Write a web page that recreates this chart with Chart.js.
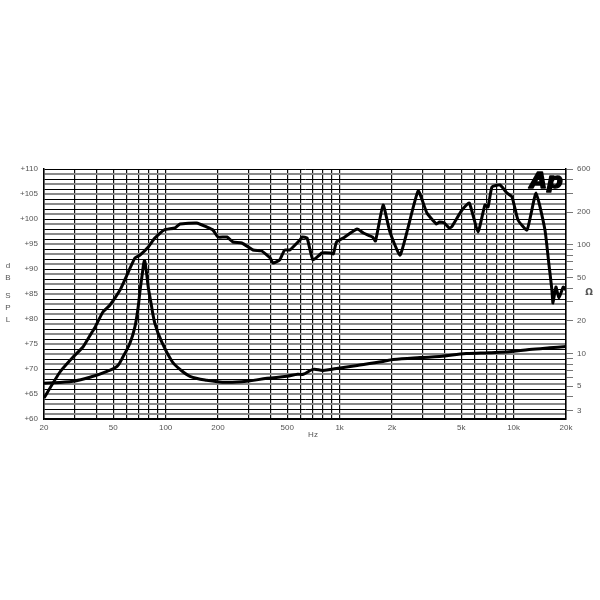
<!DOCTYPE html>
<html>
<head>
<meta charset="utf-8">
<script src="https://cdn.jsdelivr.net/npm/chart.js@4.4.1/dist/chart.umd.min.js"></script>
<style>
html,body{margin:0;padding:0;background:#fff;}
canvas{display:block;}
</style>
</head>
<body>
<canvas id="c" width="600" height="600"></canvas>
<script>
// ---- data ----
const splFreq = [20, 24.7, 29.4, 33.5, 37.8, 39.1, 43.6, 47.9, 54.7, 58.2, 66.6, 71.3, 79.5, 86.7, 98, 113, 121, 151, 172, 187, 200, 225, 244, 274, 318, 357, 399, 414, 452, 483, 517, 591, 610, 650, 703, 792, 883, 920, 960, 1047, 1262, 1370, 1545, 1608, 1778, 1946, 2230, 2825, 3175, 3600, 3750, 4000, 4260, 4400, 5050, 5560, 6240, 6840, 7130, 7510, 8350, 9160, 9790, 10600, 11940, 13450, 15140, 15970, 16600, 16830, 17500, 18200, 19300, 20000];
const splDb = [64.2, 69.4, 72.4, 74.4, 77.4, 78.2, 81.4, 82.8, 85.8, 87.8, 92.2, 92.8, 94.4, 96.2, 97.8, 98.2, 99, 99.2, 98.4, 97.8, 96.4, 96.4, 95.4, 95.2, 93.8, 93.6, 92.2, 91.2, 91.8, 93.8, 93.8, 95.8, 96.4, 96.2, 91.8, 93.2, 93.2, 93, 95.4, 96.2, 98, 97.2, 96.4, 95.6, 102.8, 97.4, 92.8, 105.6, 101.2, 99, 99.4, 99.2, 98.2, 98.4, 101.8, 103.2, 97.4, 102.8, 102.4, 106.4, 106.8, 105.2, 104.4, 99.8, 97.8, 105.2, 97.8, 90.8, 85.8, 83.2, 86.4, 84.2, 86.4, 85.8];

const impFreq = [20, 29.4, 38.3, 46, 52.6, 57, 62.5, 66.6, 69.5, 71.3, 73.2, 75.5, 77.4, 79.5, 81.9, 86.7, 95, 109, 121, 138, 172, 225, 293, 383, 497, 574, 618, 703, 803, 960, 1262, 1778, 2030, 2900, 3750, 5340, 7180, 9410, 12300, 16100, 20000];
const impOhm = [5.33, 5.57, 6.18, 6.86, 7.62, 9.4, 12.6, 17.6, 26.7, 38, 52, 71.6, 58, 40.6, 31, 19, 12.8, 8.46, 7.16, 6.18, 5.69, 5.44, 5.57, 5.92, 6.18, 6.45, 6.45, 7.16, 7.0, 7.3, 7.78, 8.46, 8.83, 9.2, 9.4, 10, 10.2, 10.4, 10.9, 11.3, 11.6];

const freqTicks = [20,30,40,50,60,70,80,90,100,200,300,400,500,600,700,800,900,1000,2000,3000,4000,5000,6000,7000,8000,9000,10000,20000];
const freqTickLabels = {20:'20',50:'50',100:'100',200:'200',500:'500',1000:'1k',2000:'2k',5000:'5k',10000:'10k',20000:'20k'};
const impTicks = [3,4,5,6,7,8,9,10,20,30,40,50,60,70,80,90,100,200,300,400,500];
const impTickLabels = {3:'3',5:'5',10:'10',20:'20',50:'50',100:'100',200:'200',500:'600'};

const toXY = (xs, ys) => xs.map((x,i)=>({x:x,y:ys[i]}));

const labelFont = {family:'Liberation Sans, Arial, sans-serif', size:8};
const labelColor = '#555';

const extras = {
  id:'extras',
  afterDraw(chart){
    const ctx = chart.ctx;
    ctx.save();
    ctx.fillStyle = labelColor;
    ctx.font = '8px "Liberation Sans", Arial, sans-serif';
    ctx.textAlign = 'center';
    ctx.textBaseline = 'middle';
    const letters = [['d',266],['B',278],['S',296],['P',308],['L',320]];
    letters.forEach(l=>ctx.fillText(l[0],8,l[1]));
    ctx.fillText('Hz',313,435);
    ctx.font = 'bold 9px "DejaVu Sans", sans-serif';
    ctx.fillText('\u03A9',589,293);
    // Ap logo
    ctx.fillStyle = '#000';
    ctx.strokeStyle = '#000';
    ctx.lineWidth = 1.6;
    ctx.lineJoin = 'round';
    ctx.font = 'italic bold 22px "DejaVu Sans", sans-serif';
    ctx.textAlign = 'left';
    ctx.textBaseline = 'alphabetic';
    ctx.fillText('Ap',530,188);
    ctx.strokeText('Ap',530,188);
    ctx.restore();
  }
};

new Chart(document.getElementById('c'), {
  type:'scatter',
  data:{
    datasets:[
      {label:'SPL', data:toXY(splFreq, splDb), yAxisID:'y', showLine:true, borderColor:'#000', borderWidth:3, pointRadius:0, tension:0.15, fill:false},
      {label:'Impedance', data:toXY(impFreq, impOhm), yAxisID:'y2', showLine:true, borderColor:'#000', borderWidth:3, pointRadius:0, tension:0.35, fill:false}
    ]
  },
  options:{
    responsive:false,
    animation:false,
    layout:{padding:{top:169, left:0, right:0, bottom:0}},
    plugins:{legend:{display:false}, tooltip:{enabled:false}},
    scales:{
      x:{
        type:'logarithmic', min:20, max:20000,
        afterBuildTicks(s){ s.ticks = freqTicks.map(v=>({value:v})); },
        afterFit(s){ s.height = 181; },
        ticks:{autoSkip:false, maxRotation:0, minRotation:0, padding:4, font:labelFont, color:labelColor,
          callback:(v)=>freqTickLabels[v] || ''},
        grid:{color:'#111', lineWidth:1.2, drawTicks:false},
        border:{color:'#000', width:1.5}
      },
      y:{
        type:'linear', position:'left', min:60, max:110,
        afterBuildTicks(s){ const t=[]; for(let v=60; v<=110; v++) t.push({value:v}); s.ticks=t; },
        afterFit(s){ s.width = 44; },
        ticks:{autoSkip:false, padding:6, font:labelFont, color:labelColor,
          callback:(v)=> (v%5===0 ? '+'+v : '')},
        grid:{drawTicks:false,
          color:(c)=> (c.tick && c.tick.value%2===0 ? '#000' : '#8a8a8a'),
          lineWidth:(c)=> (c.tick && c.tick.value%2===0 ? 1 : 2)},
        border:{color:'#000', width:1.5}
      },
      y2:{
        type:'logarithmic', position:'right', min:2.5, max:500,
        afterBuildTicks(s){ s.ticks = impTicks.map(v=>({value:v})); },
        afterFit(s){ s.width = 34; },
        ticks:{autoSkip:false, padding:4, font:labelFont, color:labelColor,
          callback:(v)=>impTickLabels[v] || ''},
        grid:{drawOnChartArea:false, drawTicks:true, tickLength:7, tickColor:'#777', tickWidth:1},
        border:{color:'#000', width:1.5}
      }
    }
  },
  plugins:[extras]
});
</script>
</body>
</html>
